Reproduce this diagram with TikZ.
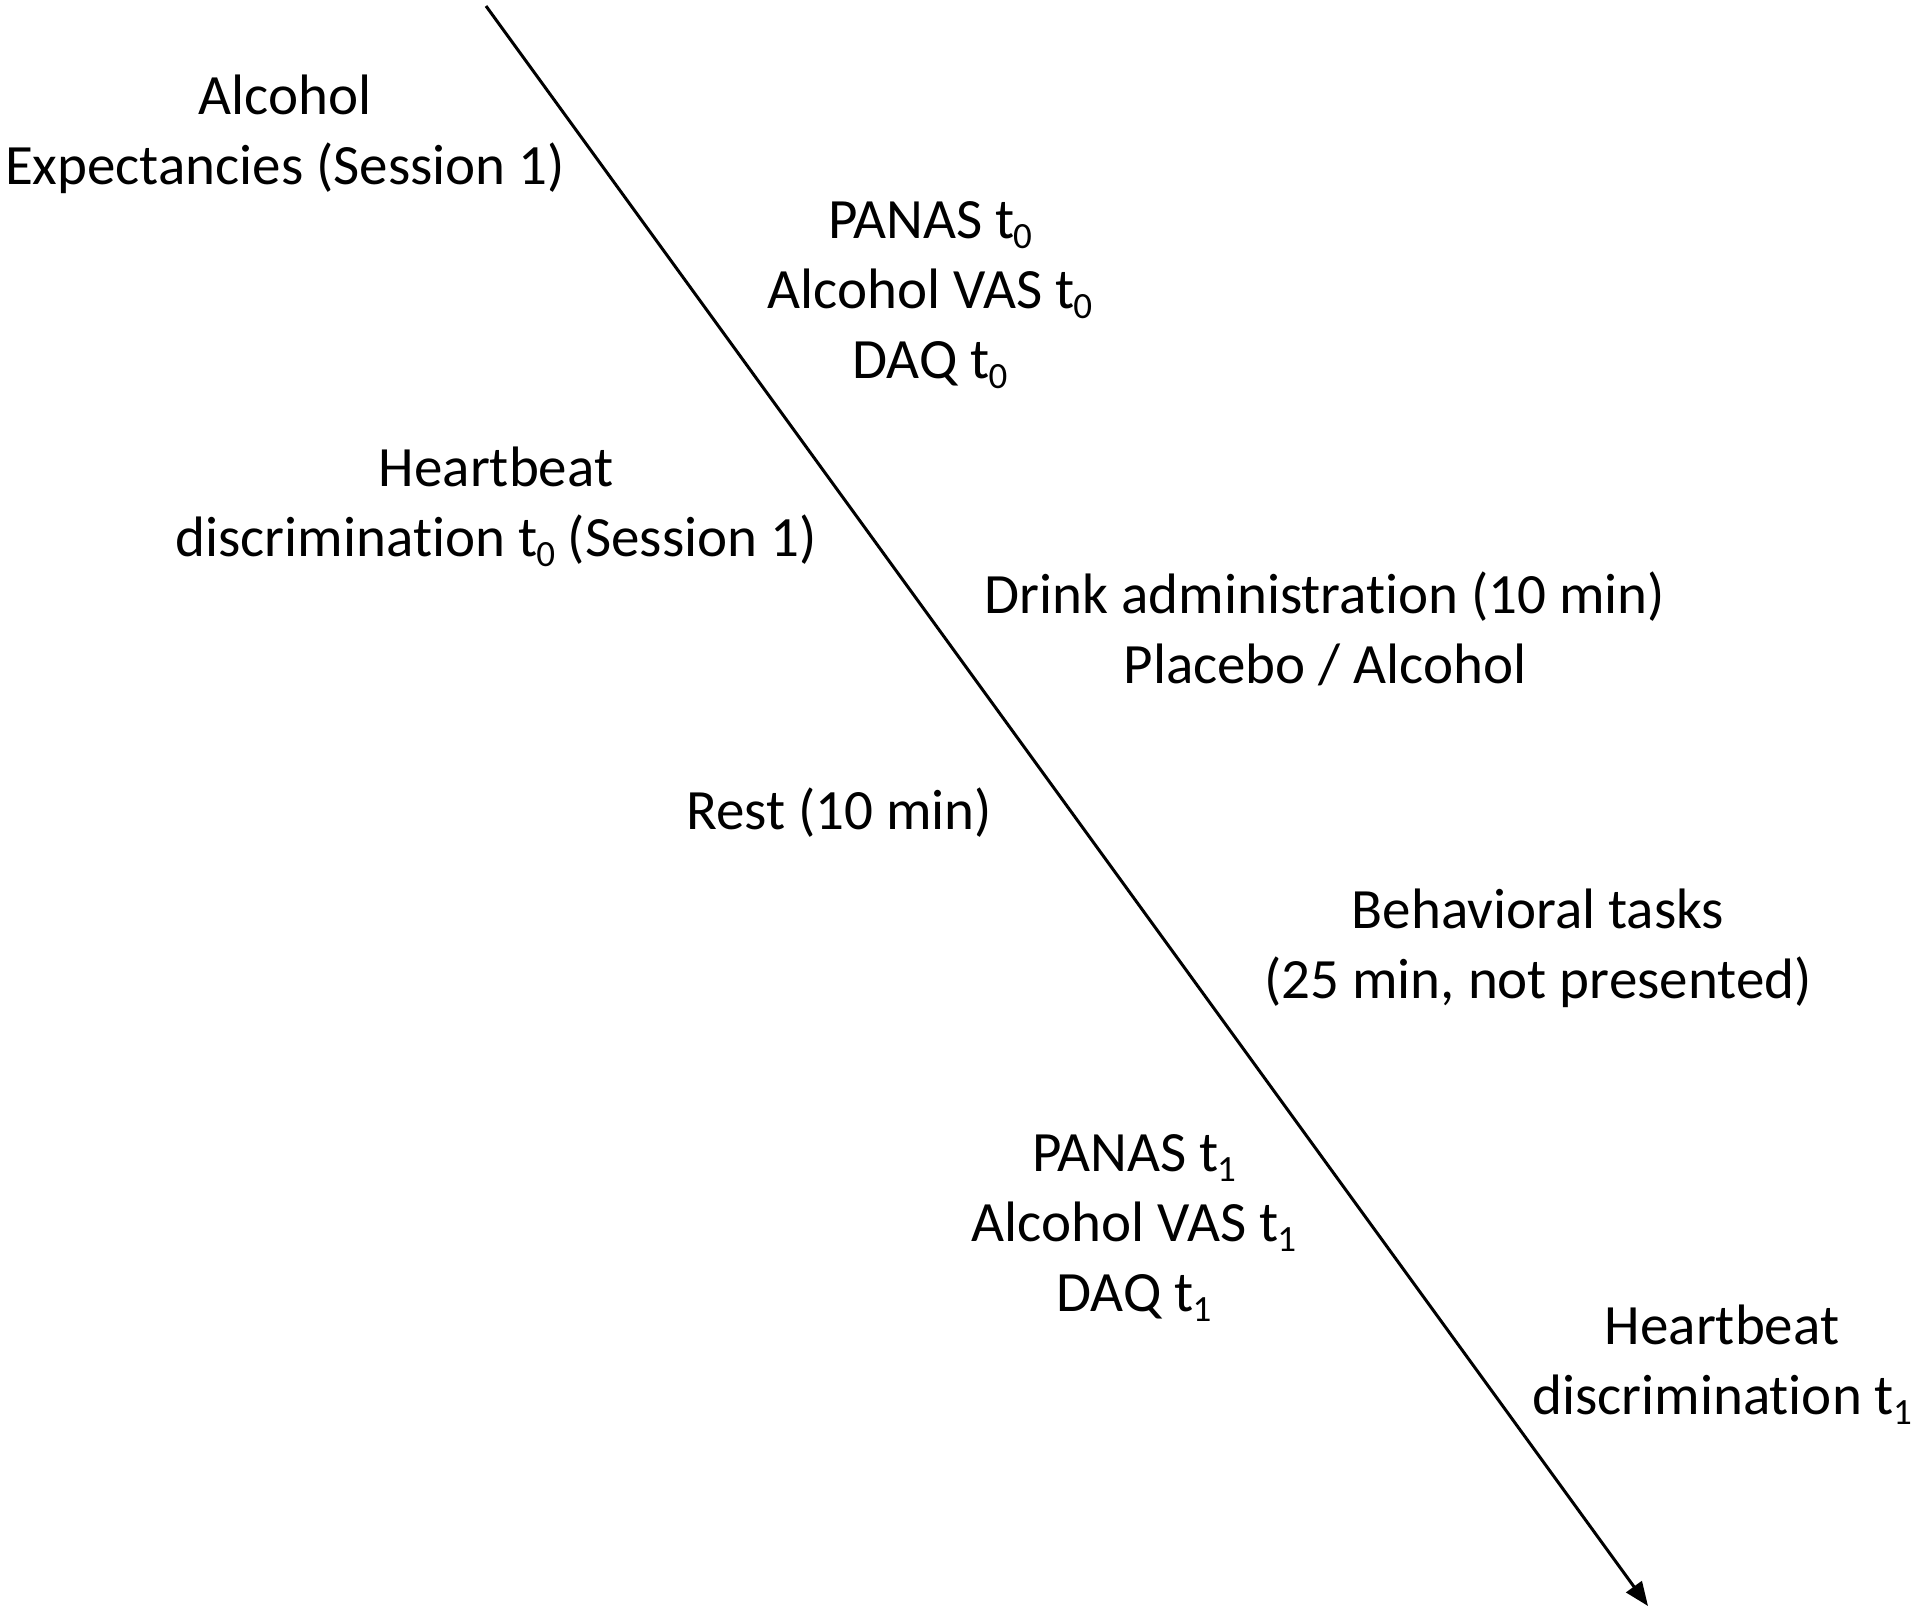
\documentclass[tikz,border=0pt]{standalone}
\usepackage{fontspec}
\setmainfont[Ligatures={NoCommon}]{Carlito}
\usetikzlibrary{arrows.meta}
\newcommand\tsub[1]{\kern-1pt\raisebox{-10pt}{\fontsize{37}{37}\selectfont #1}}
\begin{document}
\begin{tikzpicture}[x=1pt,y=-1pt,
  lbl/.style={align=center,inner sep=0pt,font=\fontsize{57}{70}\selectfont},
  axis/.style={line width=3pt,-{Triangle[length=24pt,width=19pt]}}]
\useasboundingbox (0,0) rectangle (1920,1612);
\coordinate (start) at (486,6);
\coordinate (end) at (1648,1606);
\draw[axis] (start) -- (end);
\node[lbl] (ae) at (285,134) {Alcohol\\Expectancies (Session 1)};
\node[lbl] (p0) at (930,295) {PANAS t\tsub{0}\\Alcohol VAS t\tsub{0}\\DAQ t\tsub{0}};
\node[lbl] (h0) at (496,507) {Heartbeat\\discrimination t\tsub{0} (Session 1)};
\node[lbl] (da) at (1325,629) {Drink administration (10 min)\\Placebo / Alcohol};
\node[lbl] (rest) at (839,813) {Rest (10 min)};
\node[lbl] (bt) at (1538,948) {Behavioral tasks\\(25 min, not presented)};
\node[lbl] (p1) at (1134,1228) {PANAS t\tsub{1}\\Alcohol VAS t\tsub{1}\\DAQ t\tsub{1}};
\node[lbl] (h1) at (1722,1365) {Heartbeat\\discrimination t\tsub{1}};
\end{tikzpicture}
\end{document}
